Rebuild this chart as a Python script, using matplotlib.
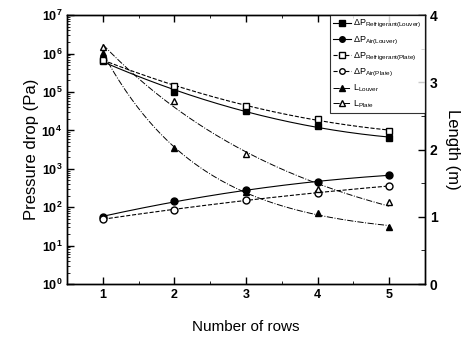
import numpy as np
import matplotlib.pyplot as plt
from matplotlib.ticker import LogLocator, NullFormatter, MultipleLocator

plt.rcParams['font.family'] = ['Liberation Sans', 'DejaVu Sans']
plt.rcParams['mathtext.fontset'] = 'custom'
plt.rcParams['mathtext.rm'] = 'Liberation Sans'

# data
rows = [1, 2, 3, 4, 5]
dp_ref_louver = [6.5e5, 1.0e5, 3.2e4, 1.3e4, 6.4e3]
dp_air_louver = [57, 144, 275, 457, 690]
dp_ref_plate = [7.0e5, 1.4e5, 4.4e4, 2.0e4, 9.8e3]
dp_air_plate = [50, 83, 158, 240, 355]
len_louver = [3.44, 2.02, 1.37, 1.05, 0.85]
len_plate = [3.53, 2.72, 1.93, 1.41, 1.22]


def fit_log(x, y, xs):
    # smooth trend line through the points (quadratic in log space)
    c = np.polyfit(x, np.log10(y), 2)
    return 10 ** np.polyval(c, xs)


def fit_decay(x, y, xs):
    # exponential decay fit y = y0 + A*exp(-x/t)
    x = np.asarray(x, float)
    y = np.asarray(y, float)
    best = None
    for t in np.linspace(0.2, 5, 400):
        M = np.column_stack([np.ones_like(x), np.exp(-x / t)])
        coef, _, _, _ = np.linalg.lstsq(M, y, rcond=None)
        err = np.sum((M @ coef - y) ** 2)
        if best is None or err < best[0]:
            best = (err, t, coef)
    _, t, coef = best
    return coef[0] + coef[1] * np.exp(-xs / t)


xs = np.linspace(1, 5, 200)

fig = plt.figure(figsize=(4.66, 3.37), dpi=100)
ax = fig.add_axes([0.144, 0.157, 0.768, 0.798])
ax2 = ax.twinx()

ax.plot(xs, fit_log(rows, dp_ref_louver, xs), '-', color='black', lw=0.8)
ax.plot(rows, dp_ref_louver, 's', color='black', ms=5)
ax.plot(xs, fit_log(rows, dp_air_louver, xs), '-', color='black', lw=0.8)
ax.plot(rows, dp_air_louver, 'o', color='black', ms=5)
ax.plot(xs, fit_log(rows, dp_ref_plate, xs), '--', color='black', lw=0.8)
ax.plot(rows, dp_ref_plate, 's', mfc='white', mec='black', ms=5)
ax.plot(xs, fit_log(rows, dp_air_plate, xs), '--', color='black', lw=0.8)
ax.plot(rows, dp_air_plate, 'o', mfc='white', mec='black', ms=5)

ax2.plot(xs, fit_decay(rows, len_louver, xs), '-.', color='black', lw=0.7)
ax2.plot(rows, len_louver, '^', color='black', ms=5)
ax2.plot(xs, fit_decay(rows, len_plate, xs), '-.', color='black', lw=0.7)
ax2.plot(rows, len_plate, '^', mfc='white', mec='black', ms=5)

ax.set_yscale('log')
ax.set_ylim(1, 1e7)
ax.set_xlim(0.5, 5.5)
ax2.set_ylim(0, 4)

ax.set_xticks(rows)
ax.xaxis.set_minor_locator(MultipleLocator(0.5))
ax.yaxis.set_major_locator(LogLocator(base=10, numticks=10))
ax.yaxis.set_minor_locator(LogLocator(base=10, subs=np.arange(2, 10), numticks=10))
ax.yaxis.set_minor_formatter(NullFormatter())
ax2.yaxis.set_major_locator(MultipleLocator(1))
ax2.yaxis.set_minor_locator(MultipleLocator(0.5))

ax.tick_params(which='both', direction='in', top=True, labelsize=9)
ax.tick_params(which='major', length=5, width=1)
ax.tick_params(which='minor', length=2.5)
ax2.tick_params(which='both', direction='in', labelsize=10)
ax2.tick_params(which='major', length=5, width=1)
ax2.tick_params(which='minor', length=3)
for lab in ax.get_xticklabels() + ax.get_yticklabels() + ax2.get_yticklabels():
    lab.set_fontweight('bold')

for a in (ax, ax2):
    for s in a.spines.values():
        s.set_linewidth(1.0)

ax.set_xlabel('Number of rows', fontsize=11, labelpad=14)
ax.set_ylabel('Pressure drop (Pa)', fontsize=12, labelpad=2)
ax2.set_ylabel('Length (m)', fontsize=12, rotation=-90, labelpad=16)

handles = [
    plt.Line2D([], [], ls='-', marker='s', color='black', lw=0.8, ms=4),
    plt.Line2D([], [], ls='-', marker='o', color='black', lw=0.8, ms=4),
    plt.Line2D([], [], ls='--', marker='s', color='black', mfc='white', lw=0.8, ms=4),
    plt.Line2D([], [], ls='--', marker='o', color='black', mfc='white', lw=0.8, ms=4),
    plt.Line2D([], [], ls='-.', marker='^', color='black', lw=0.7, ms=4),
    plt.Line2D([], [], ls='-.', marker='^', color='black', mfc='white', lw=0.7, ms=4),
]
labels = [
    r'$\Delta$P$_{\mathrm{Refrigerant(Louver)}}$',
    r'$\Delta$P$_{\mathrm{Air(Louver)}}$',
    r'$\Delta$P$_{\mathrm{Refrigerant(Plate)}}$',
    r'$\Delta$P$_{\mathrm{Air(Plate)}}$',
    r'L$_{\mathrm{Louver}}$',
    r'L$_{\mathrm{Plate}}$',
]
leg = ax2.legend(handles, labels, loc='upper right', fontsize=6.5, frameon=True,
                 fancybox=False, edgecolor='black', handlelength=2.0,
                 handletextpad=0.3, borderaxespad=0, labelspacing=0.45,
                 borderpad=0.35)
leg.get_frame().set_linewidth(0.8)

fig.savefig('out.png', dpi=100)
